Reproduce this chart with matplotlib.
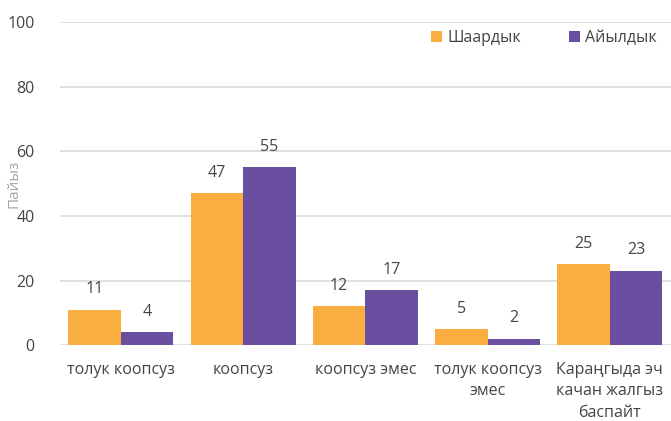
import matplotlib.pyplot as plt
import numpy as np

plt.rcParams['font.family'] = ['Open Sans', 'DejaVu Sans']

categories = ["толук коопсуз", "коопсуз", "коопсуз эмес",
              "толук коопсуз\nэмес", "Караңгыда эч\nкачан жалгыз\nбаспайт"]
urban = [11, 47, 12, 5, 25]
rural = [4, 55, 17, 2, 23]
series_names = ["Шаардык", "Айылдык"]

orange = "#FBAE40"
purple = "#6A4E9F"
text_col = "#444444"
fs = 11.5

fig = plt.figure(figsize=(6.71, 4.21), dpi=100)
ax = fig.add_axes([0.089, 0.18, 0.911, 0.768])

x = np.arange(len(categories))
w = 0.43
b1 = ax.bar(x - w / 2, urban, w, color=orange, label=series_names[0], zorder=3)
b2 = ax.bar(x + w / 2, rural, w, color=purple, label=series_names[1], zorder=3)

for bars, vals in ((b1, urban), (b2, rural)):
    for bar, v in zip(bars, vals):
        ax.annotate(str(v), (bar.get_x() + bar.get_width() / 2, v),
                    xytext=(0, 9), textcoords="offset points",
                    ha="center", va="bottom", fontsize=fs, color=text_col)

ax.set_ylim(0, 100)
ax.set_xlim(-0.5, 4.5)
ax.set_yticks(range(0, 101, 20))
ax.set_xticks(x)
ax.set_xticklabels(categories, linespacing=1.45)
ax.yaxis.grid(True, color="#D9D9D9", linewidth=1.2, zorder=0)
for s in ax.spines.values():
    s.set_visible(False)
ax.tick_params(length=0, labelsize=fs, labelcolor=text_col)
ax.tick_params(axis="y", pad=18)
ax.tick_params(axis="x", pad=12)

ax.set_ylabel("Пайыз", color="#A6A6A6", fontsize=11)
ax.yaxis.set_label_coords(-0.062, 0.5)

ax.legend(loc="upper right", bbox_to_anchor=(1.0, 1.02), ncol=2, frameon=False,
          fontsize=fs, handlelength=0.7, handleheight=0.7, handletextpad=0.3,
          columnspacing=3.0, labelcolor=text_col)

fig.savefig("out.png", dpi=100)
